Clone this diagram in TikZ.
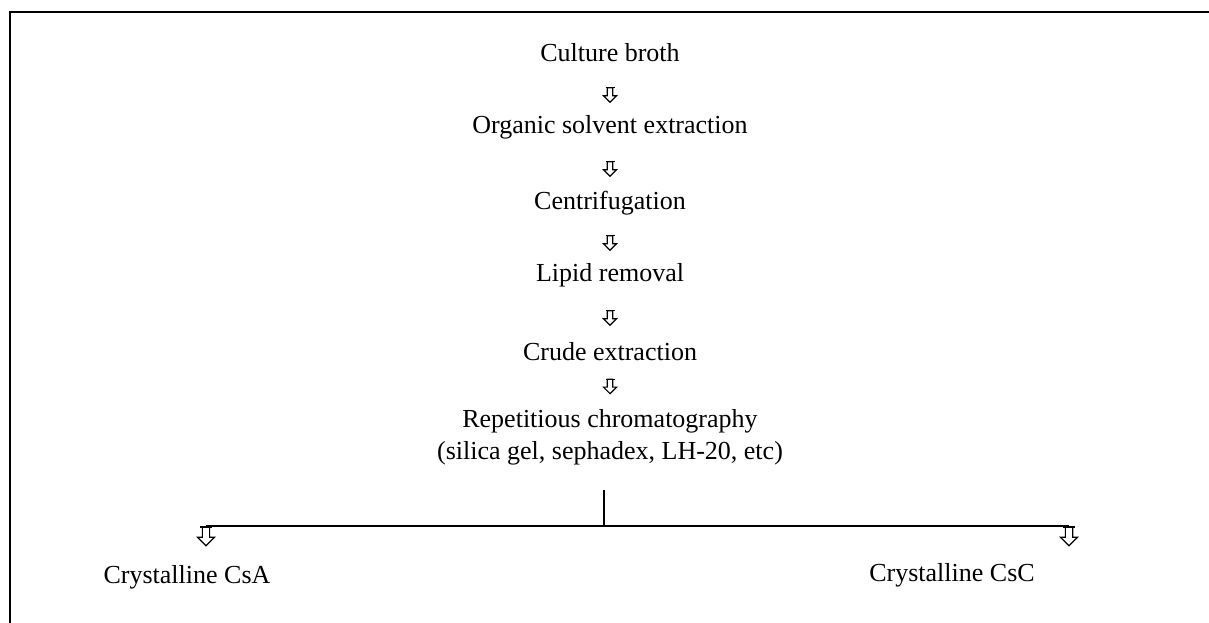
\documentclass[tikz,border=0pt]{standalone}
\usepackage{fontspec}
\setmainfont{Liberation Serif}
\usetikzlibrary{calc}

\begin{document}
\begin{tikzpicture}[
  x=0.75pt, y=-0.75pt,
  font=\fontsize{19.5}{24}\selectfont,
  stage/.style={anchor=base, inner sep=0pt, align=center,
                text height=0.75em, text depth=0.25em},
  frame/.style={line width=1.5pt, draw=black},
  branch/.style={line width=1pt, draw=black},
  hollowdown/.pic={
    \draw[line width=0.9pt, line join=miter]
      (-2.8,-7) -- (2.8,-7) -- (2.8,1) -- (6.5,1) -- (0,7.5)
      -- (-6.5,1) -- (-2.8,1) -- cycle;
    \draw[line width=0.9pt] (-4.5,-7) -- (4.5,-7);
  }
]
\useasboundingbox (0,0) rectangle (1209,623);

% frame, open on the right and at the bottom
\draw[frame] (10,623) |- (1209,12);

\node[stage] (broth)   at (610,62)  {Culture broth};
\node[stage] (solvent) at (610,134) {Organic solvent extraction};
\node[stage] (centri)  at (610,210) {Centrifugation};
\node[stage] (lipid)   at (610,282) {Lipid removal};
\node[stage] (crude)   at (610,360) {Crude extraction};
\node[stage, text height=, text depth=] (chrom) at (610,459)
  {Repetitious chromatography\\(silica gel, sephadex, LH-20, etc)};

\foreach \a/\b in {broth/solvent, solvent/centri, centri/lipid, lipid/crude, crude/chrom}
  \pic at ($(\a.south)!0.5!(\b.north)$) {hollowdown};

% split into the two products
\coordinate (split) at (604,526);
\coordinate (leftend) at (206,526);
\coordinate (rightend) at (1069,526);
\draw[branch] (split |- 0,490) -- (split);
\draw[branch] (leftend) -- (rightend);

\pic[scale=1.3] at ($(leftend)+(0,10)$) {hollowdown};
\pic[scale=1.3] at ($(rightend)+(0,10)$) {hollowdown};

\node[stage] (csa) at (187,583) {Crystalline CsA};
\node[stage] (csc) at (952,581) {Crystalline CsC};

\end{tikzpicture}
\end{document}
